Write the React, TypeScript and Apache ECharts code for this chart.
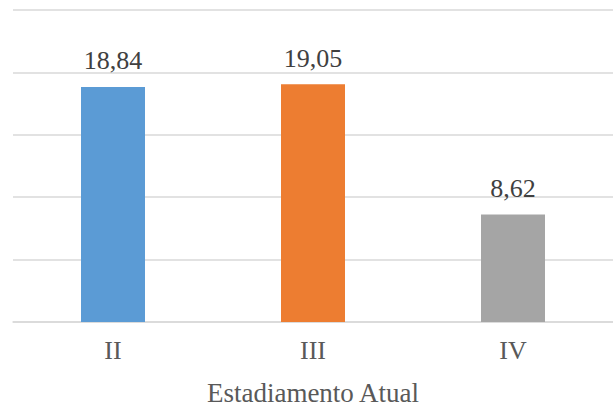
import React, { useEffect, useRef } from "react";
import * as echarts from "echarts";

const categories = ["II", "III", "IV"];
const values = [18.84, 19.05, 8.62];
const barColors = ["#5B9BD5", "#ED7D31", "#A5A5A5"];
const axisTitle = "Estadiamento Atual";

const FONT = "Liberation Serif, Times New Roman, serif";

function buildOption() {
  return {
    animation: false,
    backgroundColor: "#ffffff",
    textStyle: { fontFamily: FONT },
    grid: { left: 13, right: 0, top: 10, bottom: 85, containLabel: false, outerBoundsMode: "none" },
    xAxis: {
      type: "category",
      data: categories,
      axisTick: { show: false },
      axisLine: { show: true, lineStyle: { color: "#D9D9D9", width: 1.5 } },
      axisLabel: { color: "#595959", fontFamily: FONT, fontSize: 26, margin: 15 },
      name: axisTitle,
      nameLocation: "middle",
      nameGap: 57,
      nameTextStyle: { color: "#595959", fontFamily: FONT, fontSize: 27 },
    },
    yAxis: {
      type: "value",
      min: 0,
      max: 25,
      interval: 5,
      axisLabel: { show: false },
      axisLine: { show: false },
      axisTick: { show: false },
      splitLine: { lineStyle: { color: "#D9D9D9", width: 1.5 } },
    },
    series: [
      {
        type: "bar",
        barWidth: 64,
        data: values.map((v, i) => ({ value: v, itemStyle: { color: barColors[i] } })),
        label: {
          show: true,
          position: "top",
          distance: 13,
          color: "#404040",
          fontFamily: FONT,
          fontSize: 26,
          formatter: (p: any) => p.value.toFixed(2).replace(".", ","),
        },
      },
    ],
  };
}

export default function App() {
  const ref = useRef<HTMLDivElement>(null);
  useEffect(() => {
    document.body.style.margin = "0";
    const chart = echarts.init(ref.current!, null, { renderer: "svg" });
    chart.setOption(buildOption());
    let alive = true;
    const fonts: any = (document as any).fonts;
    if (fonts && fonts.load) {
      Promise.all([
        fonts.load('26px "Liberation Serif"', "18,84 IIIV Estadiamento Atual"),
        fonts.load("26px serif", "18,84 IIIV Estadiamento Atual"),
      ])
        .catch(() => null)
        .then(() => {
          if (!alive) return;
          chart.clear();
          chart.setOption(buildOption());
        });
    }
    return () => {
      alive = false;
      chart.dispose();
    };
  }, []);
  return (
    <div style={{ position: "relative", width: 613, height: 407 }}>
      <span
        style={{
          position: "absolute",
          left: 0,
          top: 0,
          fontFamily: FONT,
          fontSize: 26,
          color: "transparent",
          pointerEvents: "none",
        }}
        aria-hidden="true"
      >
        18,84 Estadiamento
      </span>
      <div ref={ref} style={{ position: "absolute", left: 0, top: 0, width: 613, height: 407 }} />
    </div>
  );
}
